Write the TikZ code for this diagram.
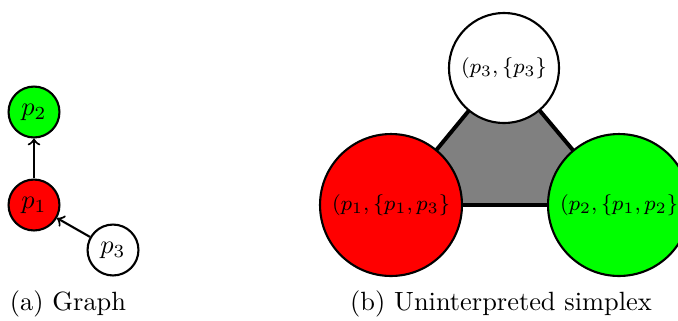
\documentclass[tikz,border=0pt]{standalone}
\begin{document}
\begin{tikzpicture}[x=0.379pt, y=0.379pt,
        vertex/.style={circle, draw, thick, inner sep=0pt},
        state/.style={vertex, font=\fontsize{8.5}{10}\selectfont},
        edge/.style={->, thick}]
        \useasboundingbox (0,0) rectangle (678,320);

        % (a) The graph
        \node[vertex, fill=green, minimum size=19.3pt] (g2) at (34,208) {$p_2$};
        \node[vertex, fill=red, minimum size=19.3pt] (g1) at (34,115) {$p_1$};
        \node[vertex, fill=white, minimum size=19.3pt] (g3) at (113,70) {$p_3$};
        \draw[edge] (g1) -- (g2);
        \draw[edge] (g3) -- (g1);
        \node (capa) at (68,16) {(a) Graph};

        % (b) The simplex
        \coordinate (c1) at (391,115);
        \coordinate (c2) at (619,115);
        \coordinate (c3) at (504,252);
        \draw[line width=1.5pt, fill=gray] (c1) -- (c2) -- (c3) -- cycle;
        \node[state, fill=white, minimum size=41.7pt] (s3) at (c3) {$(p_3,\{p_3\}$};
        \node[state, fill=red, minimum size=53.8pt] (s1) at (c1) {$(p_1,\{p_1,p_3\}$};
        \node[state, fill=green, minimum size=53.8pt] (s2) at (c2) {$(p_2,\{p_1,p_2\}$};
        \node (capb) at (501,16) {(b) Uninterpreted simplex};
    \end{tikzpicture}
\end{document}
